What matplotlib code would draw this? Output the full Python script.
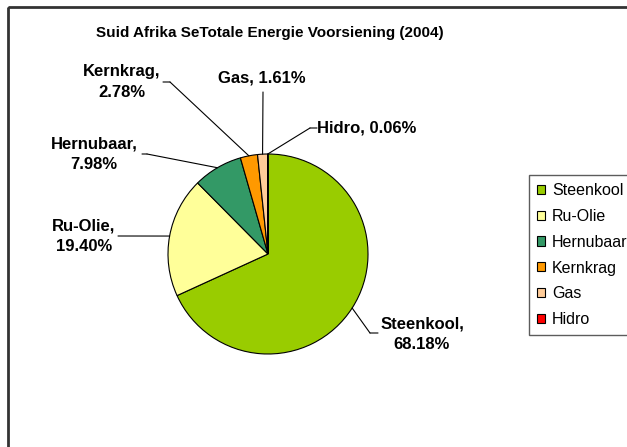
import numpy as np
import matplotlib
matplotlib.use('Agg')
import matplotlib.pyplot as plt
from matplotlib.patches import Rectangle

plt.rcParams['font.family'] = ['Liberation Sans', 'DejaVu Sans']

# data
categories = ['Steenkool', 'Ru-Olie', 'Hernubaar', 'Kernkrag', 'Gas', 'Hidro']
percentages = [68.18, 19.40, 7.98, 2.78, 1.61, 0.06]
colors = ['#99CC00', '#FFFF99', '#339966', '#FF9900', '#FFCC99', '#FF0000']
title = 'Suid Afrika SeTotale Energie Voorsiening (2004)'

W, H = 627, 447
fig = plt.figure(figsize=(W / 100, H / 100), dpi=100)

def px(x, y):
    '''pixel (top-left origin) -> figure fraction'''
    return x / W, 1 - y / H

# outer chart border (right and bottom lie outside the picture)
fig.patches.append(Rectangle(px(8, 7), 1.2, -1.2, transform=fig.transFigure,
                             fill=False, edgecolor='#333333', linewidth=2))

# pie axes: centre (268, 254), radius 100 px
ax = fig.add_axes([168 / W, 1 - 354 / H, 200 / W, 200 / H])
wedges, _ = ax.pie(percentages, colors=colors, startangle=90, counterclock=False,
                   wedgeprops=dict(edgecolor='black', linewidth=0.8))
ax.set_xlim(-1, 1)
ax.set_ylim(-1, 1)
ax.set_aspect('equal')
ax.axis('off')

fig.text(*px(270, 33), title, ha='center', va='center', fontsize=11, fontweight='bold')

# label text positions and leader knee points (pixels, top-left origin)
label_pos = {
    'Steenkool': (422, 334, 'center', (378, 333), (370, 333)),
    'Ru-Olie': (84, 236, 'center', (118, 236), (118, 236)),
    'Hernubaar': (94, 154, 'center', (142, 154), (147, 154)),
    'Kernkrag': (122, 82, 'center', (163, 82), (170, 82)),
    'Gas': (262, 78, 'center', (263, 92), (263, 92)),
    'Hidro': (317, 128, 'left', (317, 128), (310, 128)),
}

for name, pct, w in zip(categories, percentages, wedges):
    tx, ty, ha, p_end, p_knee = label_pos[name]
    if name in ('Gas', 'Hidro'):
        txt = f'{name}, {pct:.2f}%'
    else:
        txt = f'{name},\n{pct:.2f}%'
    fig.text(*px(tx, ty), txt, ha=ha, va='center', ma='center', fontsize=12,
             fontweight='bold', linespacing=1.45)
    mid = np.deg2rad((w.theta1 + w.theta2) / 2)
    rim = (np.cos(mid), np.sin(mid))
    ax.annotate('', xy=rim, xycoords='data',
                xytext=(p_knee[0], H - p_knee[1]), textcoords='figure pixels',
                arrowprops=dict(arrowstyle='-', color='black', lw=0.8,
                                shrinkA=0, shrinkB=0), annotation_clip=False)
    ax.annotate('', xy=(p_knee[0], H - p_knee[1]), xycoords='figure pixels',
                xytext=(p_end[0], H - p_end[1]), textcoords='figure pixels',
                arrowprops=dict(arrowstyle='-', color='black', lw=0.8,
                                shrinkA=0, shrinkB=0), annotation_clip=False)

leg = fig.legend(wedges, categories, loc='upper left',
                 bbox_to_anchor=px(529, 175), bbox_transform=fig.transFigure,
                 fontsize=11.5, frameon=True, fancybox=False, borderaxespad=0,
                 handlelength=0.5, handleheight=0.5, handletextpad=0.45,
                 labelspacing=0.68, borderpad=0.5)
leg.get_frame().set_edgecolor('#333333')
leg.get_frame().set_linewidth(1)

fig.savefig('out.png', dpi=100)
